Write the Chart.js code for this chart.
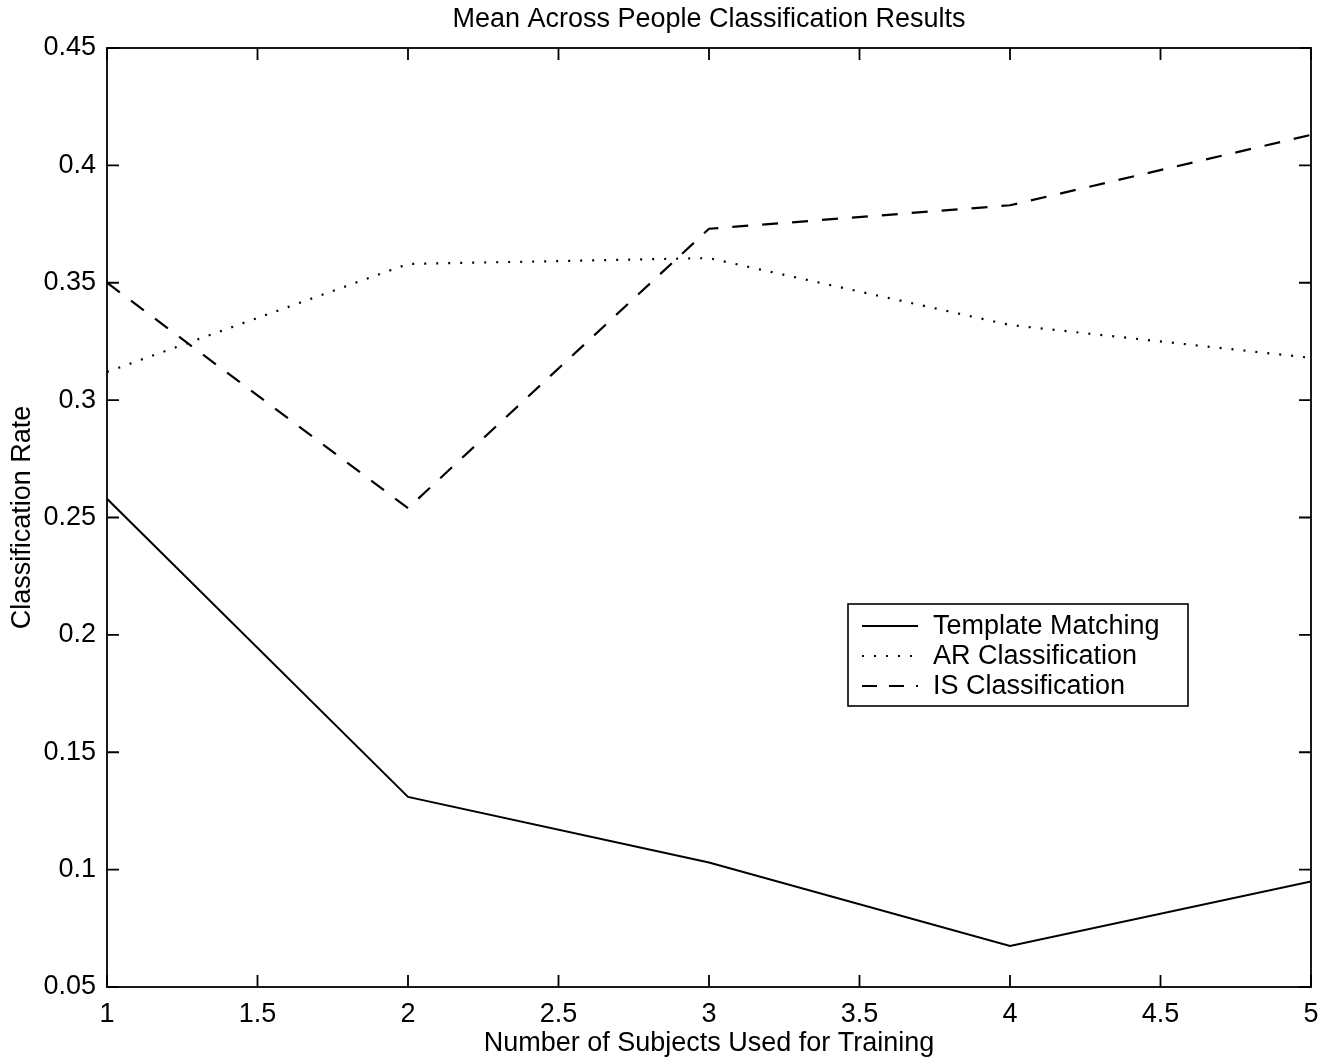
<!DOCTYPE html>
<html>
<head>
<meta charset="utf-8">
<script src="https://cdn.jsdelivr.net/npm/chart.js@4/dist/chart.umd.min.js"></script>
<style>
html,body{margin:0;padding:0;background:#fff;}
#wrap{width:1338px;height:1061px;position:relative;}
</style>
</head>
<body>
<div id="wrap"><canvas id="c" width="1338" height="1061"></canvas></div>
<script>
// ---- data ----
const trainingSubjects = [1, 2, 3, 4, 5];
const templateMatching = [0.258, 0.131, 0.103, 0.0675, 0.095];
const arClassification = [0.312, 0.358, 0.3605, 0.332, 0.318];
const isClassification = [0.350, 0.254, 0.373, 0.383, 0.413];
const seriesNames = ['Template Matching', 'AR Classification', 'IS Classification'];
const xTicks = [1, 1.5, 2, 2.5, 3, 3.5, 4, 4.5, 5];
const yTicks = [0.05, 0.1, 0.15, 0.2, 0.25, 0.3, 0.35, 0.4, 0.45];
const titleText = 'Mean Across People Classification Results';
const xTitle = 'Number of Subjects Used for Training';
const yTitle = 'Classification Rate';

const FONT = '"Liberation Sans", Arial, Helvetica, sans-serif';
const FS = 27;
const TICK_LEN = 12;

function pts(arr) { return trainingSubjects.map((x, i) => ({x: x, y: arr[i]})); }

const styles = [
  {borderDash: [], borderWidth: 2, borderCapStyle: 'butt'},
  {borderDash: [2, 10], borderWidth: 2.2, borderCapStyle: 'butt'},
  {borderDash: [16, 14], borderWidth: 2.2, borderCapStyle: 'butt'}
];

const boxPlugin = {
  id: 'matlabBox',
  afterDraw(chart) {
    const ctx = chart.ctx;
    const a = chart.chartArea;
    const xs = chart.scales.x, ys = chart.scales.y;
    ctx.save();
    ctx.strokeStyle = '#000';
    ctx.lineWidth = 1.8;
    ctx.strokeRect(a.left, a.top, a.right - a.left, a.bottom - a.top);
    ctx.beginPath();
    xTicks.forEach(v => {
      const px = xs.getPixelForValue(v);
      ctx.moveTo(px, a.bottom); ctx.lineTo(px, a.bottom - TICK_LEN);
      ctx.moveTo(px, a.top); ctx.lineTo(px, a.top + TICK_LEN);
    });
    yTicks.forEach(v => {
      const py = ys.getPixelForValue(v);
      ctx.moveTo(a.left, py); ctx.lineTo(a.left + TICK_LEN, py);
      ctx.moveTo(a.right, py); ctx.lineTo(a.right - TICK_LEN, py);
    });
    ctx.stroke();

    // legend
    const lx = 848, ly = 604, lw = 340, lh = 102;
    ctx.fillStyle = '#fff';
    ctx.fillRect(lx, ly, lw, lh);
    ctx.lineWidth = 1.6;
    ctx.strokeRect(lx, ly, lw, lh);
    ctx.font = FS + 'px ' + FONT;
    ctx.textBaseline = 'middle';
    ctx.textAlign = 'left';
    chart.data.datasets.forEach((ds, i) => {
      const cy = ly + 22 + i * 30;
      ctx.save();
      ctx.strokeStyle = '#000';
      ctx.lineWidth = ds.borderWidth;
      ctx.lineCap = 'butt';
      ctx.setLineDash(i === 2 ? [15, 12] : ds.borderDash);
      ctx.beginPath();
      ctx.moveTo(862, cy); ctx.lineTo(918, cy);
      ctx.stroke();
      ctx.restore();
      ctx.fillStyle = '#000';
      ctx.fillText(ds.label, 933, cy + 1);
    });
    ctx.restore();
  }
};

new Chart(document.getElementById('c'), {
  type: 'line',
  data: {
    datasets: [
      Object.assign({label: seriesNames[0], data: pts(templateMatching)}, styles[0]),
      Object.assign({label: seriesNames[1], data: pts(arClassification)}, styles[1]),
      Object.assign({label: seriesNames[2], data: pts(isClassification)}, styles[2])
    ].map(d => Object.assign(d, {borderColor: '#000', backgroundColor: '#000', pointRadius: 0, fill: false, tension: 0}))
  },
  options: {
    responsive: false,
    animation: false,
    devicePixelRatio: 1,
    layout: {padding: {left: 0, right: 27, top: 0, bottom: 0}},
    plugins: {
      legend: {display: false},
      tooltip: {enabled: false},
      title: {
        display: true, text: titleText, color: '#000', fullSize: false,
        font: {family: FONT, size: FS, weight: 'normal', lineHeight: 1.2},
        padding: {top: 3, bottom: 12.6}
      }
    },
    scales: {
      x: {
        type: 'linear', min: 1, max: 5,
        afterBuildTicks(s) { s.ticks = xTicks.map(v => ({value: v})); },
        afterFit(s) { s.height = 74; },
        grid: {display: false, drawTicks: false},
        border: {display: false},
        ticks: {
          color: '#000', padding: 11, maxRotation: 0, autoSkip: false,
          font: {family: FONT, size: FS},
          callback: v => String(Number(v.toFixed(2)))
        },
        title: {
          display: true, text: xTitle, color: '#000',
          font: {family: FONT, size: FS, lineHeight: 1.2},
          padding: {top: 0, bottom: 1.5}
        }
      },
      y: {
        type: 'linear', min: 0.05, max: 0.45,
        afterBuildTicks(s) { s.ticks = yTicks.map(v => ({value: v})); },
        afterFit(s) { s.width = 107; },
        grid: {display: false, drawTicks: false},
        border: {display: false},
        ticks: {
          color: '#000', padding: 11, autoSkip: false,
          font: {family: FONT, size: FS},
          callback: v => String(Number(v.toFixed(2)))
        },
        title: {
          display: true, text: yTitle, color: '#000',
          font: {family: FONT, size: FS, lineHeight: 1.2},
          padding: {top: 6, bottom: 0}
        }
      }
    }
  },
  plugins: [boxPlugin]
});
</script>
</body>
</html>
